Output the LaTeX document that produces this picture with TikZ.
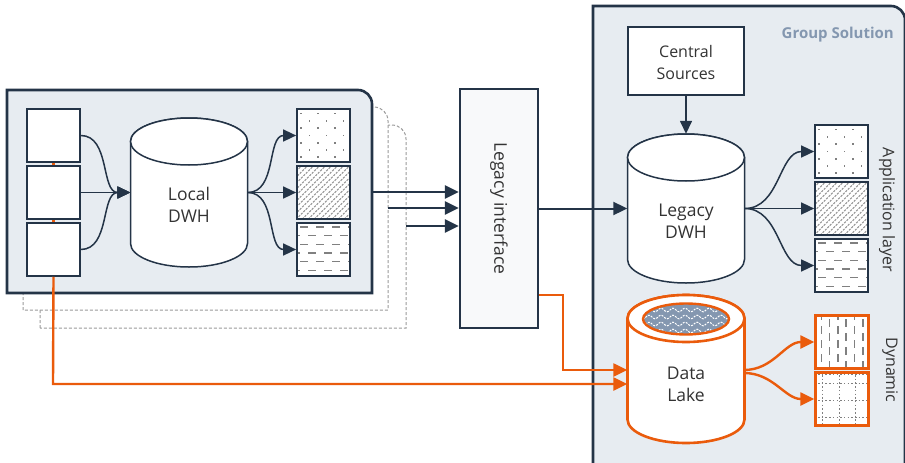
\documentclass[tikz,border=0pt]{standalone}
\usepackage{fontspec}
\setmainfont{Open Sans}
\usetikzlibrary{arrows.meta,calc}
\definecolor{navy}{HTML}{243447}
\definecolor{bgblue}{HTML}{E7ECF1}
\definecolor{orng}{HTML}{EA5B0C}
\definecolor{gsol}{HTML}{8497B0}
\definecolor{txt}{HTML}{333333}
\definecolor{patgray}{HTML}{808080}
\definecolor{lifill}{HTML}{F8F9FA}
\definecolor{dashgray}{HTML}{9A9A9A}

\newcommand\mycyl[4]{%
  \draw[#1] ({#2-58.5},{#3+23.5}) -- ({#2-58.5},{#4-23.5})
    arc[start angle=180,end angle=0,x radius=58.5,y radius=23.5]
    -- ({#2+58.5},{#3+23.5})
    arc[start angle=0,end angle=-180,x radius=58.5,y radius=23.5] -- cycle;
  \draw[#1] (#2,{#3+23.5}) ellipse[x radius=58.5, y radius=23.5];}

\newcommand\patclip[1]{\clip ([shift={(1,1)}]#1.north west) rectangle ([shift={(-1,-1)}]#1.south east);}

\newcommand\patdots[1]{\begin{scope}\patclip{#1}
  \begin{scope}[shift={(#1.north west)}]
  \foreach \r in {0,2,4,6} \foreach \c in {0,...,3} {\fill[patgray] ({4+17*\c},{4.5+7.3*\r}) rectangle +(1.7,1.7);}
  \foreach \r in {1,3,5} \foreach \c in {0,...,3} {\fill[patgray] ({12.5+17*\c},{4.5+7.3*\r}) rectangle +(1.7,1.7);}
  \end{scope}\end{scope}}

\newcommand\pathatch[1]{\begin{scope}\patclip{#1}
  \begin{scope}[shift={(#1.north west)}]
  \foreach \k in {-54,-48,...,54} {\draw[patgray!85, line width=1pt, dash pattern=on 2.2pt off 1.2pt] (\k,54) -- ({\k+54},0);}
  \end{scope}\end{scope}}

\newcommand\patdash[1]{\begin{scope}\patclip{#1}
  \begin{scope}[shift={(#1.north west)}]
  \foreach \r in {0,2,4} {\draw[patgray, line width=1.6pt, dash pattern=on 8pt off 8pt, dash phase=-4pt] (0,{5+8.6*\r}) -- (55,{5+8.6*\r});}
  \foreach \r in {1,3,5} {\draw[patgray, line width=1.2pt, dash pattern=on 8pt off 8pt, dash phase=4pt] (0,{5+8.6*\r}) -- (55,{5+8.6*\r});}
  \end{scope}\end{scope}}

\newcommand\patvdash[1]{\begin{scope}\patclip{#1}
  \begin{scope}[shift={(#1.north west)}]
  \foreach \c in {0,2,4} {\draw[patgray, line width=1.6pt, dash pattern=on 8pt off 6pt] ({7+8.3*\c},-2) -- ({7+8.3*\c},56);}
  \foreach \c in {1,3,5} {\draw[patgray, line width=1.6pt, dash pattern=on 8pt off 6pt, dash phase=7pt] ({7+8.3*\c},-2) -- ({7+8.3*\c},56);}
  \end{scope}\end{scope}}

\newcommand\patgrid[1]{\begin{scope}\patclip{#1}
  \begin{scope}[shift={(#1.north west)}]
  \foreach \c in {8.5,25,41.5} {\draw[patgray, line width=1.3pt, dash pattern=on 1.5pt off 2.2pt] (\c,0) -- (\c,56);}
  \foreach \c in {3,12,29,46.5} {\draw[patgray, line width=1.3pt, dash pattern=on 1.5pt off 2.2pt] (0,\c) -- (56,\c);}
  \end{scope}\end{scope}}

\begin{document}
\begin{tikzpicture}[x=1pt,y=-1pt,
  box/.style={draw=navy, line width=1.5pt, fill=white, minimum width=53pt, minimum height=53pt, inner sep=0pt},
  patbox/.style={box, line width=1.7pt},
  dynbox/.style={box, draw=orng, line width=2.4pt},
  lbl/.style={text=txt, font=\fontsize{16}{22}\selectfont, align=center, inner sep=0pt},
  cyllbl/.style={text=txt, font=\fontsize{17.5}{22}\selectfont, align=center, inner sep=0pt},
  anchorbox/.style={minimum width=117pt, minimum height=149pt, inner sep=0pt},
  darr/.style={draw=navy, line width=1.5pt, -{Triangle[length=13pt,width=12pt]}},
  midarr/.style={draw=navy, line width=2pt, -{Triangle[length=14pt,width=13pt]}},
  bigarr/.style={draw=navy, line width=2.6pt, -{Triangle[length=14pt,width=13pt]}},
  oarr/.style={draw=orng, line width=2.4pt, -{Triangle[length=14pt,width=13pt]}},
  dashbox/.style={draw=dashgray, line width=1pt, dash pattern=on 3pt off 2pt, fill=white},
  mainbox/.style={draw=navy, line width=2.6pt, fill=bgblue},
]
\useasboundingbox (0,0) rectangle (905,463);
\clip (0,0) rectangle (905,463);

% Group solution background
\draw[mainbox] (593,470) -- (593,6) -- (891,6) arc[start angle=-90,end angle=0,radius=14] -- (905,470);
\node[font=\bfseries\fontsize{15}{18}\selectfont, text=gsol, anchor=east, inner sep=0pt] (gs) at (894,35) {Group Solution};

% stacked local boxes
\draw[dashbox] (40,328) -- (40,125) -- (392,125) arc[start angle=-90,end angle=0,radius=14] -- (406,328) -- cycle;
\draw[dashbox] (23,310) -- (23,107) -- (374,107) arc[start angle=-90,end angle=0,radius=14] -- (388,310) -- cycle;
\draw[mainbox] (7,293) -- (7,90) -- (358,90) arc[start angle=-90,end angle=0,radius=14] -- (372,293) -- cycle;

% source boxes
\node[box] (s1) at (53.5,135.5) {};
\node[box] (s2) at (53.5,192.5) {};
\node[box] (s3) at (53.5,249.5) {};

% Local DWH
\mycyl{draw=navy, line width=1.5pt, fill=white}{189}{118}{267}
\node[anchorbox] (ldwh) at (189,192.5) {};
\node[cyllbl] (ldwht) at (189,205) {Local\\DWH};

% left pattern boxes
\node[patbox] (p1) at (323.5,135.5) {};
\node[patbox] (p2) at (323.5,192.5) {};
\node[patbox] (p3) at (323.5,249.5) {};
\patdots{p1}\pathatch{p2}\patdash{p3}
\node[patbox, fill=none] at (p1) {};
\node[patbox, fill=none] at (p2) {};
\node[patbox, fill=none] at (p3) {};

\draw[darr] (s1.east) to[out=0,in=180] (ldwh.west);
\draw[darr] (s2.east) -- (ldwh.west);
\draw[darr] (s3.east) to[out=0,in=180] (ldwh.west);
\draw[darr] (ldwh.east) to[out=0,in=180] (p1.west);
\draw[darr] (ldwh.east) -- (p2.west);
\draw[darr] (ldwh.east) to[out=0,in=180] (p3.west);

% Legacy interface
\node[draw=navy, line width=2.4pt, fill=lifill, minimum width=78pt, minimum height=239pt, inner sep=0pt] (li) at (499,208.5) {};
\node[lbl, font=\fontsize{17.5}{21}\selectfont, rotate=-90] (lit) at (li) {Legacy interface};

\coordinate (c1) at (372,192);
\coordinate (c2) at (388,208);
\coordinate (c3) at (406,226);
\draw[bigarr] (c1) -- (li.west |- c1);
\draw[bigarr] (c2) -- (li.west |- c2);
\draw[bigarr] (c3) -- (li.west |- c3);

% Central sources
\node[draw=navy, line width=1.5pt, fill=white, minimum width=116pt, minimum height=68pt, inner sep=0pt] (cs) at (686,61) {};
\node[lbl] (cst) at (686,62) {Central\\Sources};

% Legacy DWH
\mycyl{draw=navy, line width=1.5pt, fill=white}{686}{134}{283}
\node[anchorbox] (gdwh) at (686,208.5) {};
\node[cyllbl] (gdwht) at (686,221) {Legacy\\DWH};
\draw[darr] (cs.south) -- (gdwh.north);
\draw[midarr] (li.east |- gdwh.west) -- (gdwh.west);

% Application layer boxes
\node[patbox] (a1) at (841.5,151.5) {};
\node[patbox] (a2) at (841.5,208.5) {};
\node[patbox] (a3) at (841.5,265.5) {};
\patdots{a1}\pathatch{a2}\patdash{a3}
\node[patbox, fill=none] at (a1) {};
\node[patbox, fill=none] at (a2) {};
\node[patbox, fill=none] at (a3) {};
\draw[darr] (gdwh.east) to[out=0,in=180] (a1.west);
\draw[darr] (gdwh.east) -- (a2.west);
\draw[darr] (gdwh.east) to[out=0,in=180] (a3.west);
\node[lbl, rotate=-90] (alt) at (887,210) {Application layer};

% Data Lake
\mycyl{draw=orng, line width=2.6pt, fill=white}{686}{295}{443}
\node[anchorbox] (dl) at (686,369) {};
\node[cyllbl] (dlt) at (686,384) {Data\\Lake};
\begin{scope}
  \clip (686,319) ellipse[x radius=43, y radius=15.5];
  \fill[gsol] (686,319) ellipse[x radius=43, y radius=15.5];
  \foreach \yy in {310,317,324,331} {
    \draw[white, line width=1pt, dash pattern=on 2pt off 1.2pt] plot[domain=0:94, samples=90, smooth] ({640+\x},{\yy+1.8*sin(30*\x)});}
\end{scope}
\draw[orng, line width=2.4pt] (686,319) ellipse[x radius=43, y radius=15.5];

% Dynamic boxes
\node[dynbox] (d1) at (842,342) {};
\node[dynbox] (d2) at (842,399) {};
\patvdash{d1}\patgrid{d2}
\node[dynbox, fill=none] at (d1) {};
\node[dynbox, fill=none] at (d2) {};
\coordinate (dlo1) at (744,370);
\coordinate (dlo2) at (744,373);
\draw[oarr] (dlo1) to[out=0,in=180] (d1.west);
\draw[oarr] (dlo2) to[out=0,in=180] (d2.west);
\node[lbl, rotate=-90] (dyt) at (890,370) {Dynamic};

% orange lines
\draw[orng, line width=2.4pt] (s1.south) -- (s2.north);
\draw[orng, line width=2.4pt] (s2.south) -- (s3.north);
\coordinate (o1) at (563,295);
\draw[oarr] (li.east |- o1) -- (o1) -- (563,370) -- (dl.west |- 0,370);
\draw[oarr] (s3.south) -- (53,384) -- (dl.west |- 0,384);
\end{tikzpicture}
\end{document}
